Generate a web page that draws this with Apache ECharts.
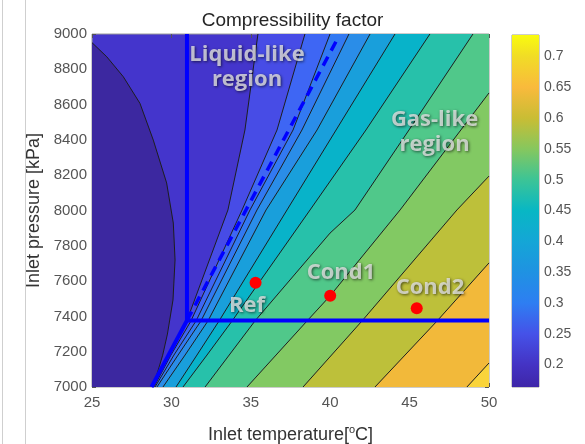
<!DOCTYPE html>
<html>
<head>
<meta charset="utf-8">
<script src="https://cdn.jsdelivr.net/npm/echarts@6/dist/echarts.min.js"></script>
<style>
html, body { margin: 0; padding: 0; background: #fff; }
#chart { width: 585px; height: 444px; }
</style>
</head>
<body>
<div id="chart"></div>
<script>
// contour lines, [temperature degC, pressure kPa]
const arcLine = [[25.0, 8951], [25.93, 8871], [26.97, 8758], [28.02, 8607], [28.86, 8399], [29.70, 8156],
    [30.12, 7929], [30.23, 7720], [30.10, 7493], [29.75, 7300], [29.45, 7180], [28.85, 7000]];
const line1 = [[28.84, 7000], [29.85, 7181], [30.98, 7377], [33.56, 8003], [34.63, 8456], [35.45, 9000]];
const line2 = [[28.90, 7000], [29.97, 7181], [31.23, 7374], [34.45, 8003], [36.65, 8456], [38.41, 9000]];
const line3 = [[28.97, 7000], [30.16, 7181], [31.55, 7374], [34.95, 8003], [37.66, 8456], [39.99, 9000]];
const line4 = [[29.09, 7000], [30.42, 7181], [31.86, 7374], [35.39, 8003], [38.22, 8456], [41.18, 9000]];
const line5 = [[29.47, 7000], [30.86, 7181], [32.30, 7374], [35.96, 8003], [39.17, 8456], [42.51, 9000]];
const line6 = [[30.29, 7000], [31.61, 7181], [33.00, 7374], [37.28, 8003], [40.37, 8456], [44.08, 9000]];
const line7 = [[30.73, 7000], [32.24, 7181], [33.82, 7374], [38.73, 8003], [42.25, 8456], [46.28, 9000]];
const line8 = [[32.12, 7000], [35.26, 7374], [39.99, 7872], [41.56, 8003], [44.96, 8456], [48.99, 9000]];
const line9 = [[34.76, 7000], [38.54, 7374], [39.99, 7516], [44.40, 8003], [50, 8666]];
const line10 = [[38.29, 7000], [42.0, 7374], [47.98, 8003], [50, 8195]];
const line11 = [[42.82, 7000], [46.73, 7374], [50, 7703]];
const line12 = [[48.61, 7000], [50, 7136]];
const contourLines = [line1, line2, line3, line4, line5, line6, line7, line8, line9, line10, line11, line12];

// band colours, darkest (left of the arc) to the bottom-right corner
const bandColors = ['#3c28a0', '#4435cc', '#474ce6', '#3e66f4', '#3279f2', '#2a8de8', '#199fdb',
    '#08b3c9', '#27c1aa', '#50c88a', '#82c963', '#bdc03a', '#f2b93a', '#fad43a'];

const critT = 30.98, critP = 7377;
const boxLine = [[critT, 9000], [critT, critP], [50, critP]];
const satLine = [[28.75, 7000], [critT, critP]];
const widomLine = [[critT, critP], [40.5, 8980]];

const caseNames = ['Ref', 'Cond1', 'Cond2'];
const casePoints = [[35.3, 7590], [40.0, 7517], [45.45, 7446]];
const caseLabelAt = [[34.76, 7459], [40.68, 7646], [46.28, 7561]];
const regionNames = ['Liquid-like\nregion', 'Gas-like\nregion'];
const regionAt = [[34.76, 8813], [46.57, 8442]];

const tMin = 25, tMax = 50, tStep = 5;
const pMin = 7000, pMax = 9000, pStep = 200;
const zMin = 0.1636, zMax = 0.735;
const zTicks = [0.2, 0.25, 0.3, 0.35, 0.4, 0.45, 0.5, 0.55, 0.6, 0.65, 0.7];
const zColors = [[0.1636, '#3e26a8'], [0.2, '#4433c4'], [0.25, '#4552e8'], [0.3, '#2e7ef2'], [0.35, '#1f92e2'],
    [0.4, '#14a6d6'], [0.45, '#08b7c4'], [0.5, '#3cc496'], [0.55, '#86c75e'], [0.6, '#c9bd34'],
    [0.65, '#f9ba3c'], [0.7, '#f1dc26'], [0.735, '#f9fb0e']];

const chart = echarts.init(document.getElementById('chart'));

const tickStyle = { show: true, inside: true, length: 4, lineStyle: { color: '#555', width: 1 } };
const labelFont = { color: '#555', fontFamily: 'Liberation Sans', fontSize: 15, formatter: v => String(v) };
const noteStyle = {
    show: true, position: 'inside', formatter: '{b}', color: '#e2e2e2',
    fontFamily: 'Open Sans', fontWeight: 'bold', fontSize: 22, lineHeight: 25, align: 'center',
    textShadowColor: 'rgba(0,0,0,0.75)', textShadowBlur: 3, textShadowOffsetX: 1, textShadowOffsetY: 1
};

const arcFill = {
    type: 'line', data: arcLine, symbol: 'none', z: 1, silent: true,
    lineStyle: { width: 0 }, areaStyle: { color: bandColors[0], opacity: 1, origin: 'start' }
};
const bandFills = contourLines.map((pts, i) => {
    const last = pts[pts.length - 1];
    const data = last[1] >= pMax ? pts.concat([[tMax, pMax]]) : pts;
    return {
        type: 'line', data: data, symbol: 'none', z: 1, silent: true,
        lineStyle: { width: 0 }, areaStyle: { color: bandColors[i + 2], opacity: 1, origin: 'start' }
    };
});
const strokes = [arcLine].concat(contourLines).map(pts => ({
    type: 'line', data: pts, symbol: 'none', z: 3, silent: true,
    lineStyle: { color: '#1e1e1e', width: 1 }
}));

const option = {
    animation: false,
    title: {
        text: 'Compressibility factor', left: 'center', top: 6,
        textStyle: { fontFamily: 'Liberation Sans', fontWeight: 'normal', fontSize: 19, color: '#262626' }
    },
    graphic: [
        { type: 'line', shape: { x1: 2.5, y1: 0, x2: 2.5, y2: 444 }, style: { stroke: '#cfcfcf', lineWidth: 1 } },
        { type: 'line', shape: { x1: 25.5, y1: 0, x2: 25.5, y2: 444 }, style: { stroke: '#cfcfcf', lineWidth: 1 } }
    ],
    grid: [
        { left: 92, top: 34, width: 397, height: 353, show: true, backgroundColor: bandColors[1],
          borderColor: '#9a9a9a', borderWidth: 1, outerBoundsMode: 'none', containLabel: false },
        { left: 512, top: 35, width: 27, height: 352, show: true, backgroundColor: 'transparent',
          borderColor: '#9a9a9a', borderWidth: 1, outerBoundsMode: 'none', containLabel: false }
    ],
    xAxis: [
        { type: 'value', gridIndex: 0, min: tMin, max: tMax, interval: tStep, position: 'bottom',
          axisLine: { show: false }, axisTick: tickStyle, splitLine: { show: false },
          axisLabel: Object.assign({ margin: 8 }, labelFont),
          name: 'Inlet temperature[{sup|o}C]', nameLocation: 'middle', nameGap: 37,
          nameTextStyle: { fontFamily: 'Liberation Sans', fontSize: 18, color: '#333',
            rich: { sup: { fontFamily: 'Liberation Sans', fontSize: 11, color: '#333', verticalAlign: 'top', lineHeight: 22 } } } },
        { type: 'value', gridIndex: 0, min: tMin, max: tMax, interval: tStep, position: 'top',
          axisLine: { show: false }, axisTick: tickStyle, splitLine: { show: false }, axisLabel: { show: false } },
        { type: 'category', gridIndex: 1, data: ['z'], show: false }
    ],
    yAxis: [
        { type: 'value', gridIndex: 0, min: pMin, max: pMax, interval: pStep, position: 'left',
          axisLine: { show: false }, axisTick: tickStyle, splitLine: { show: false },
          axisLabel: Object.assign({ margin: 5 }, labelFont),
          name: 'Inlet pressure [kPa]', nameLocation: 'middle', nameGap: 41, nameRotate: 90,
          nameTextStyle: { fontFamily: 'Liberation Sans', fontSize: 18, color: '#333' } },
        { type: 'value', gridIndex: 0, min: pMin, max: pMax, interval: pStep, position: 'right',
          axisLine: { show: false }, axisTick: tickStyle, splitLine: { show: false }, axisLabel: { show: false } },
        { type: 'value', gridIndex: 1, min: zMin, max: zMax, position: 'right',
          axisLine: { show: false }, splitLine: { show: false },
          axisTick: Object.assign({ customValues: zTicks }, tickStyle),
          axisLabel: { customValues: zTicks, margin: 5, color: '#555', fontFamily: 'Liberation Sans', fontSize: 14 } }
    ],
    series: [arcFill].concat(bandFills, strokes, [
        { type: 'line', data: boxLine, symbol: 'none', z: 4, silent: true,
          lineStyle: { color: '#0000ff', width: 4 } },
        { type: 'line', data: satLine, symbol: 'none', z: 4, silent: true,
          lineStyle: { color: '#0000ff', width: 4 } },
        { type: 'line', data: widomLine, symbol: 'none', z: 4, silent: true,
          lineStyle: { color: '#0000ff', width: 3.5, type: [10, 7] } },
        { type: 'scatter', data: casePoints, symbolSize: 12, z: 5, silent: true,
          itemStyle: { color: '#ff0000', opacity: 1 } },
        { type: 'scatter', data: caseNames.map((n, i) => ({ name: n, value: caseLabelAt[i] })),
          symbolSize: 0.1, z: 6, silent: true, itemStyle: { color: 'rgba(0,0,0,0)' }, label: noteStyle },
        { type: 'scatter', data: regionNames.map((n, i) => ({ name: n, value: regionAt[i] })),
          symbolSize: 0.1, z: 6, silent: true, itemStyle: { color: 'rgba(0,0,0,0)' }, label: noteStyle },
        { type: 'bar', xAxisIndex: 2, yAxisIndex: 2, data: [zMax], barWidth: '100%', silent: true,
          itemStyle: { color: new echarts.graphic.LinearGradient(0, 1, 0, 0,
              zColors.map(c => ({ offset: (c[0] - zMin) / (zMax - zMin), color: c[1] }))) } }
    ])
};

chart.setOption(option);
</script>
</body>
</html>
